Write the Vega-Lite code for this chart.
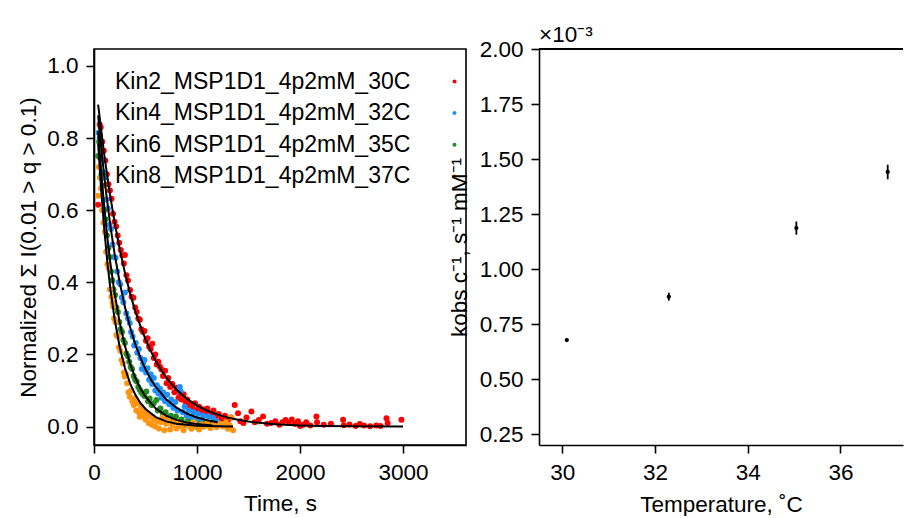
{
  "$schema": "https://vega.github.io/schema/vega-lite/v6.json",
  "padding": {"left": 16, "top": 23, "right": 0, "bottom": 0},
  "background": "white",
  "bounds": "flush",
  "spacing": 73,
  "datasets": {
    "red": [
      {"t":40,"y":0.615},{"t":55,"y":0.838},{"t":65,"y":0.83},{"t":80,"y":0.79},{"t":95,"y":0.765},{"t":110,"y":0.738},{"t":125,"y":0.7},{"t":140,"y":0.672},{"t":155,"y":0.655},{"t":170,"y":0.632},{"t":185,"y":0.59},{"t":200,"y":0.568},{"t":215,"y":0.555},{"t":230,"y":0.53},{"t":245,"y":0.51},{"t":260,"y":0.49},{"t":275,"y":0.475},{"t":290,"y":0.452},{"t":300,"y":0.476},{"t":315,"y":0.42},{"t":330,"y":0.405},{"t":350,"y":0.379},{"t":365,"y":0.36},{"t":382,"y":0.357},{"t":400,"y":0.33},{"t":415,"y":0.318},{"t":430,"y":0.3},{"t":445,"y":0.296},{"t":460,"y":0.27},{"t":475,"y":0.262},{"t":490,"y":0.265},{"t":505,"y":0.238},{"t":520,"y":0.245},{"t":535,"y":0.222},{"t":550,"y":0.215},{"t":565,"y":0.23},{"t":580,"y":0.19},{"t":595,"y":0.2},{"t":610,"y":0.172},{"t":625,"y":0.18},{"t":640,"y":0.166},{"t":655,"y":0.158},{"t":670,"y":0.14},{"t":690,"y":0.155},{"t":705,"y":0.12},{"t":720,"y":0.135},{"t":740,"y":0.11},{"t":760,"y":0.118},{"t":780,"y":0.095},{"t":800,"y":0.108},{"t":820,"y":0.08},{"t":835,"y":0.093},{"t":850,"y":0.075},{"t":870,"y":0.09},{"t":890,"y":0.068},{"t":905,"y":0.075},{"t":920,"y":0.058},{"t":940,"y":0.062},{"t":960,"y":0.05},{"t":980,"y":0.065},{"t":1000,"y":0.046},{"t":1020,"y":0.055},{"t":1040,"y":0.042},{"t":1060,"y":0.048},{"t":1080,"y":0.035},{"t":1100,"y":0.05},{"t":1120,"y":0.038},{"t":1140,"y":0.03},{"t":1160,"y":0.045},{"t":1185,"y":0.028},{"t":1210,"y":0.035},{"t":1240,"y":0.022},{"t":1270,"y":0.03},{"t":1300,"y":0.018},{"t":1330,"y":0.025},{"t":1366,"y":0.06},{"t":1398,"y":0.037},{"t":1420,"y":0.015},{"t":1450,"y":0.01},{"t":1480,"y":0.025},{"t":1528,"y":0.042},{"t":1560,"y":0.012},{"t":1600,"y":0.018},{"t":1641,"y":0.028},{"t":1680,"y":0.008},{"t":1720,"y":0.01},{"t":1760,"y":0.015},{"t":1800,"y":0.005},{"t":1830,"y":0.012},{"t":1860,"y":0.018},{"t":1890,"y":0.01},{"t":1920,"y":0.02},{"t":1950,"y":0.008},{"t":1980,"y":0.015},{"t":2000,"y":0.002},{"t":2030,"y":0.005},{"t":2060,"y":0.012},{"t":2100,"y":0.003},{"t":2159,"y":0.028},{"t":2165,"y":0.012},{"t":2230,"y":0.005},{"t":2300,"y":0.008},{"t":2418,"y":0.019},{"t":2425,"y":0.004},{"t":2480,"y":0.006},{"t":2540,"y":0.002},{"t":2580,"y":0.007},{"t":2620,"y":0.003},{"t":2680,"y":0.001},{"t":2740,"y":0.003},{"t":2780,"y":0.002},{"t":2839,"y":0.023},{"t":2850,"y":0.01},{"t":2984,"y":0.019}
    ],
    "blue": [
      {"t":45,"y":0.815},{"t":55,"y":0.8},{"t":65,"y":0.785},{"t":80,"y":0.74},{"t":90,"y":0.705},{"t":105,"y":0.69},{"t":120,"y":0.63},{"t":135,"y":0.605},{"t":150,"y":0.56},{"t":165,"y":0.548},{"t":180,"y":0.505},{"t":195,"y":0.47},{"t":210,"y":0.468},{"t":225,"y":0.43},{"t":240,"y":0.4},{"t":255,"y":0.395},{"t":270,"y":0.358},{"t":285,"y":0.345},{"t":300,"y":0.372},{"t":314,"y":0.314},{"t":330,"y":0.3},{"t":347,"y":0.287},{"t":360,"y":0.262},{"t":375,"y":0.25},{"t":390,"y":0.225},{"t":405,"y":0.232},{"t":420,"y":0.205},{"t":435,"y":0.215},{"t":450,"y":0.19},{"t":465,"y":0.16},{"t":476,"y":0.176},{"t":490,"y":0.185},{"t":505,"y":0.15},{"t":520,"y":0.162},{"t":535,"y":0.13},{"t":550,"y":0.145},{"t":565,"y":0.118},{"t":580,"y":0.135},{"t":595,"y":0.1},{"t":610,"y":0.115},{"t":625,"y":0.092},{"t":640,"y":0.105},{"t":655,"y":0.08},{"t":670,"y":0.095},{"t":690,"y":0.07},{"t":710,"y":0.088},{"t":730,"y":0.062},{"t":750,"y":0.075},{"t":770,"y":0.052},{"t":790,"y":0.068},{"t":810,"y":0.045},{"t":833,"y":0.11},{"t":840,"y":0.098},{"t":860,"y":0.04},{"t":880,"y":0.055},{"t":900,"y":0.03},{"t":920,"y":0.045},{"t":945,"y":0.025},{"t":965,"y":0.04},{"t":990,"y":0.02},{"t":1010,"y":0.035},{"t":1035,"y":0.018},{"t":1060,"y":0.03},{"t":1085,"y":0.012},{"t":1110,"y":0.028},{"t":1135,"y":0.01},{"t":1155,"y":0.024},{"t":1175,"y":0.008},{"t":1190,"y":0.015}
    ],
    "green": [
      {"t":40,"y":0.75},{"t":50,"y":0.79},{"t":60,"y":0.745},{"t":72,"y":0.7},{"t":85,"y":0.668},{"t":100,"y":0.6},{"t":112,"y":0.575},{"t":125,"y":0.53},{"t":140,"y":0.495},{"t":152,"y":0.47},{"t":165,"y":0.43},{"t":178,"y":0.405},{"t":190,"y":0.38},{"t":205,"y":0.365},{"t":218,"y":0.33},{"t":232,"y":0.318},{"t":245,"y":0.29},{"t":258,"y":0.27},{"t":272,"y":0.262},{"t":285,"y":0.24},{"t":300,"y":0.232},{"t":314,"y":0.203},{"t":328,"y":0.195},{"t":342,"y":0.18},{"t":356,"y":0.165},{"t":370,"y":0.16},{"t":385,"y":0.14},{"t":400,"y":0.13},{"t":415,"y":0.125},{"t":430,"y":0.11},{"t":444,"y":0.102},{"t":460,"y":0.095},{"t":475,"y":0.09},{"t":490,"y":0.085},{"t":508,"y":0.097},{"t":525,"y":0.07},{"t":540,"y":0.078},{"t":560,"y":0.06},{"t":580,"y":0.065},{"t":606,"y":0.074},{"t":620,"y":0.045},{"t":645,"y":0.05},{"t":670,"y":0.035},{"t":695,"y":0.04},{"t":720,"y":0.025},{"t":745,"y":0.03},{"t":770,"y":0.018},{"t":795,"y":0.028},{"t":820,"y":0.01},{"t":850,"y":0.02},{"t":880,"y":0.005},{"t":910,"y":0.015},{"t":940,"y":0.002},{"t":970,"y":0.01},{"t":1000,"y":-0.002},{"t":1030,"y":0.008},{"t":1060,"y":0.0},{"t":1090,"y":0.012},{"t":1120,"y":0.004},{"t":1150,"y":0.01}
    ],
    "orange": [
      {"t":40,"y":0.64},{"t":48,"y":0.72},{"t":58,"y":0.69},{"t":68,"y":0.66},{"t":80,"y":0.6},{"t":92,"y":0.565},{"t":105,"y":0.54},{"t":118,"y":0.485},{"t":130,"y":0.45},{"t":142,"y":0.44},{"t":155,"y":0.38},{"t":168,"y":0.36},{"t":180,"y":0.345},{"t":185,"y":0.333},{"t":195,"y":0.3},{"t":208,"y":0.29},{"t":217,"y":0.254},{"t":230,"y":0.25},{"t":242,"y":0.22},{"t":255,"y":0.21},{"t":268,"y":0.185},{"t":280,"y":0.175},{"t":290,"y":0.15},{"t":298,"y":0.139},{"t":310,"y":0.145},{"t":322,"y":0.12},{"t":335,"y":0.095},{"t":347,"y":0.083},{"t":360,"y":0.1},{"t":372,"y":0.07},{"t":385,"y":0.06},{"t":398,"y":0.078},{"t":410,"y":0.045},{"t":422,"y":0.065},{"t":435,"y":0.04},{"t":444,"y":0.027},{"t":458,"y":0.055},{"t":470,"y":0.03},{"t":485,"y":0.045},{"t":500,"y":0.02},{"t":515,"y":0.035},{"t":530,"y":0.01},{"t":545,"y":0.028},{"t":560,"y":0.005},{"t":578,"y":0.02},{"t":595,"y":0.0},{"t":612,"y":0.015},{"t":630,"y":-0.005},{"t":648,"y":0.012},{"t":665,"y":0.025},{"t":682,"y":-0.01},{"t":700,"y":0.008},{"t":720,"y":0.018},{"t":740,"y":-0.008},{"t":760,"y":0.005},{"t":780,"y":0.015},{"t":800,"y":-0.005},{"t":820,"y":0.01},{"t":845,"y":0.0},{"t":870,"y":-0.01},{"t":895,"y":0.008},{"t":920,"y":0.002},{"t":945,"y":-0.006},{"t":970,"y":0.012},{"t":995,"y":0.0},{"t":1020,"y":-0.008},{"t":1045,"y":0.006},{"t":1070,"y":0.0},{"t":1100,"y":0.01},{"t":1130,"y":-0.004},{"t":1160,"y":0.005},{"t":1190,"y":-0.002},{"t":1220,"y":0.008},{"t":1250,"y":0.0},{"t":1280,"y":0.012},{"t":1300,"y":-0.006},{"t":1317,"y":0.004},{"t":1335,"y":0.025},{"t":1350,"y":-0.01}
    ],
    "fits": [
      {"s":"a","t":40,"f":0.893},{"s":"a","t":100,"f":0.753},{"s":"a","t":150,"f":0.653},{"s":"a","t":200,"f":0.567},{"s":"a","t":250,"f":0.492},{"s":"a","t":300,"f":0.427},{"s":"a","t":350,"f":0.37},{"s":"a","t":400,"f":0.321},{"s":"a","t":450,"f":0.279},{"s":"a","t":500,"f":0.242},{"s":"a","t":550,"f":0.21},{"s":"a","t":600,"f":0.182},{"s":"a","t":650,"f":0.158},{"s":"a","t":700,"f":0.137},{"s":"a","t":750,"f":0.119},{"s":"a","t":800,"f":0.103},{"s":"a","t":900,"f":0.0776},{"s":"a","t":1000,"f":0.0584},{"s":"a","t":1100,"f":0.044},{"s":"a","t":1200,"f":0.0331},{"s":"a","t":1300,"f":0.0249},{"s":"a","t":1400,"f":0.0188},{"s":"a","t":1500,"f":0.0141},{"s":"a","t":1600,"f":0.0106},{"s":"a","t":1700,"f":0.008},{"s":"a","t":1800,"f":0.006},{"s":"a","t":2000,"f":0.0034},{"s":"a","t":2200,"f":0.0019},{"s":"a","t":2500,"f":0.0008},{"s":"a","t":3000,"f":0.0002},
      {"s":"b","t":40,"f":0.863},{"s":"b","t":80,"f":0.745},{"s":"b","t":120,"f":0.643},{"s":"b","t":160,"f":0.555},{"s":"b","t":200,"f":0.479},{"s":"b","t":250,"f":0.399},{"s":"b","t":300,"f":0.332},{"s":"b","t":350,"f":0.276},{"s":"b","t":400,"f":0.229},{"s":"b","t":450,"f":0.191},{"s":"b","t":500,"f":0.159},{"s":"b","t":550,"f":0.132},{"s":"b","t":600,"f":0.11},{"s":"b","t":700,"f":0.076},{"s":"b","t":800,"f":0.0527},{"s":"b","t":900,"f":0.0364},{"s":"b","t":1000,"f":0.0252},{"s":"b","t":1100,"f":0.0175},{"s":"b","t":1200,"f":0.0121},
      {"s":"c","t":40,"f":0.819},{"s":"c","t":70,"f":0.706},{"s":"c","t":100,"f":0.608},{"s":"c","t":130,"f":0.523},{"s":"c","t":160,"f":0.451},{"s":"c","t":200,"f":0.369},{"s":"c","t":250,"f":0.288},{"s":"c","t":300,"f":0.224},{"s":"c","t":350,"f":0.175},{"s":"c","t":400,"f":0.136},{"s":"c","t":450,"f":0.106},{"s":"c","t":500,"f":0.083},{"s":"c","t":600,"f":0.05},{"s":"c","t":700,"f":0.0306},{"s":"c","t":800,"f":0.0186},{"s":"c","t":900,"f":0.0113},{"s":"c","t":1000,"f":0.0069},{"s":"c","t":1150,"f":0.0033},
      {"s":"d","t":40,"f":0.785},{"s":"d","t":70,"f":0.655},{"s":"d","t":100,"f":0.546},{"s":"d","t":130,"f":0.455},{"s":"d","t":160,"f":0.38},{"s":"d","t":200,"f":0.298},{"s":"d","t":250,"f":0.22},{"s":"d","t":300,"f":0.163},{"s":"d","t":350,"f":0.12},{"s":"d","t":400,"f":0.089},{"s":"d","t":450,"f":0.0657},{"s":"d","t":500,"f":0.049},{"s":"d","t":600,"f":0.0265},{"s":"d","t":700,"f":0.0145},{"s":"d","t":800,"f":0.0079},{"s":"d","t":1000,"f":0.0024},{"s":"d","t":1200,"f":0.0007},{"s":"d","t":1350,"f":0.0003}
    ],
    "kobs": [
      {"T":30.1,"k":0.000677,"e":0.000006},
      {"T":32.3,"k":0.000874,"e":0.000018},
      {"T":35.05,"k":0.001186,"e":0.00003},
      {"T":37.02,"k":0.001441,"e":0.000033}
    ]
  },
  "resolve": {"legend": {"color": "independent"}, "scale": {"x": "independent", "y": "independent", "color": "independent"}},
  "hconcat": [
    {
      "width": 372,
      "height": 396,
      "layer": [
        {
          "data": {"name": "red"},
          "mark": {"type": "point", "filled": true, "size": 36, "opacity": 1},
          "encoding": {
            "x": {"field": "t", "type": "quantitative",
                  "scale": {"domain": [0, 3611], "nice": false, "zero": false},
                  "axis": {"title": "Time, s", "values": [0, 1000, 2000, 3000], "format": "d", "grid": false, "titlePadding": 9}},
            "y": {"field": "y", "type": "quantitative",
                  "scale": {"domain": [-0.051, 1.047], "nice": false, "zero": false},
                  "axis": {"title": "Normalized Σ I(0.01 > q > 0.1)", "values": [0, 0.2, 0.4, 0.6, 0.8, 1.0], "format": ".1f", "grid": false}},
            "color": {"datum": "Kin2_MSP1D1_4p2mM_30C", "type": "nominal",
                      "scale": {"domain": ["Kin2_MSP1D1_4p2mM_30C", "Kin4_MSP1D1_4p2mM_32C", "Kin6_MSP1D1_4p2mM_35C", "Kin8_MSP1D1_4p2mM_37C"],
                                "range": ["#ff0000", "#1e90ff", "#228b22", "#ff9410"]},
                      "legend": {"title": null, "orient": "none", "legendX": 3, "legendY": 21, "padding": 0,
                                 "labelFontSize": 23, "labelFont": "Liberation Sans", "labelColor": "black", "labelLimit": 0,
                                 "symbolSize": 16, "symbolOffset": 346, "symbolStrokeWidth": 0, "symbolType": "circle",
                                 "rowPadding": 7.6, "labelOffset": -351}}
          }
        },
        {
          "data": {"name": "blue"},
          "mark": {"type": "point", "filled": true, "size": 36, "opacity": 1},
          "encoding": {
            "x": {"field": "t", "type": "quantitative"},
            "y": {"field": "y", "type": "quantitative"},
            "color": {"datum": "Kin4_MSP1D1_4p2mM_32C", "type": "nominal"}
          }
        },
        {
          "data": {"name": "green"},
          "mark": {"type": "point", "filled": true, "size": 36, "opacity": 1},
          "encoding": {
            "x": {"field": "t", "type": "quantitative"},
            "y": {"field": "y", "type": "quantitative"},
            "color": {"datum": "Kin6_MSP1D1_4p2mM_35C", "type": "nominal"}
          }
        },
        {
          "data": {"name": "orange"},
          "mark": {"type": "point", "filled": true, "size": 36, "opacity": 1},
          "encoding": {
            "x": {"field": "t", "type": "quantitative"},
            "y": {"field": "y", "type": "quantitative"},
            "color": {"datum": "Kin8_MSP1D1_4p2mM_37C", "type": "nominal"}
          }
        },
        {
          "data": {"name": "fits"},
          "mark": {"type": "line", "color": "black", "strokeWidth": 2},
          "encoding": {
            "x": {"field": "t", "type": "quantitative"},
            "y": {"field": "f", "type": "quantitative"},
            "detail": {"field": "s", "type": "nominal"}
          }
        }
      ]
    },
    {
      "width": 364,
      "height": 396,
      "view": {"stroke": null},
      "title": {"text": "×10⁻³", "anchor": "start", "frame": "group", "fontSize": 22.5, "fontWeight": "normal", "font": "Liberation Sans", "color": "black", "offset": -8},
      "data": {"name": "kobs"},
      "layer": [
        {
          "mark": {"type": "errorbar", "ticks": false, "color": "black", "thickness": 1.8},
          "encoding": {
            "x": {"field": "T", "type": "quantitative",
                  "scale": {"domain": [29.5, 37.35], "nice": false, "zero": false},
                  "axis": {"title": "Temperature, ˚C", "values": [30, 32, 34, 36], "grid": false, "titlePadding": 10}},
            "y": {"field": "k", "type": "quantitative",
                  "scale": {"domain": [0.0002, 0.002], "nice": false, "zero": false},
                  "axis": {"title": "kobs c⁻¹, s⁻¹ mM⁻¹", "values": [0.00025, 0.0005, 0.00075, 0.001, 0.00125, 0.0015, 0.00175, 0.002],
                           "labelExpr": "format(datum.value * 1000, '.2f')", "grid": false, "titlePadding": 8}},
            "yError": {"field": "e"}
          }
        },
        {
          "mark": {"type": "point", "filled": true, "size": 18, "color": "black", "opacity": 1},
          "encoding": {
            "x": {"field": "T", "type": "quantitative"},
            "y": {"field": "k", "type": "quantitative"}
          }
        },
        {
          "mark": {"type": "rule", "color": "black", "strokeWidth": 1.6},
          "encoding": {"y": {"datum": 0.002, "type": "quantitative"}}
        }
      ]
    }
  ],
  "config": {
    "font": "Liberation Sans",
    "view": {"stroke": "black", "strokeWidth": 1.6},
    "axis": {
      "domainColor": "black", "domainWidth": 1.6,
      "tickColor": "black", "tickWidth": 1.6, "tickSize": 8,
      "labelFont": "Liberation Sans", "labelFontSize": 22.5, "labelColor": "black", "labelPadding": 8,
      "titleFont": "Liberation Sans", "titleFontSize": 22.5, "titleFontWeight": "normal", "titleColor": "black", "titlePadding": 6,
      "labelFlush": false, "labelOverlap": false
    }
  }
}
